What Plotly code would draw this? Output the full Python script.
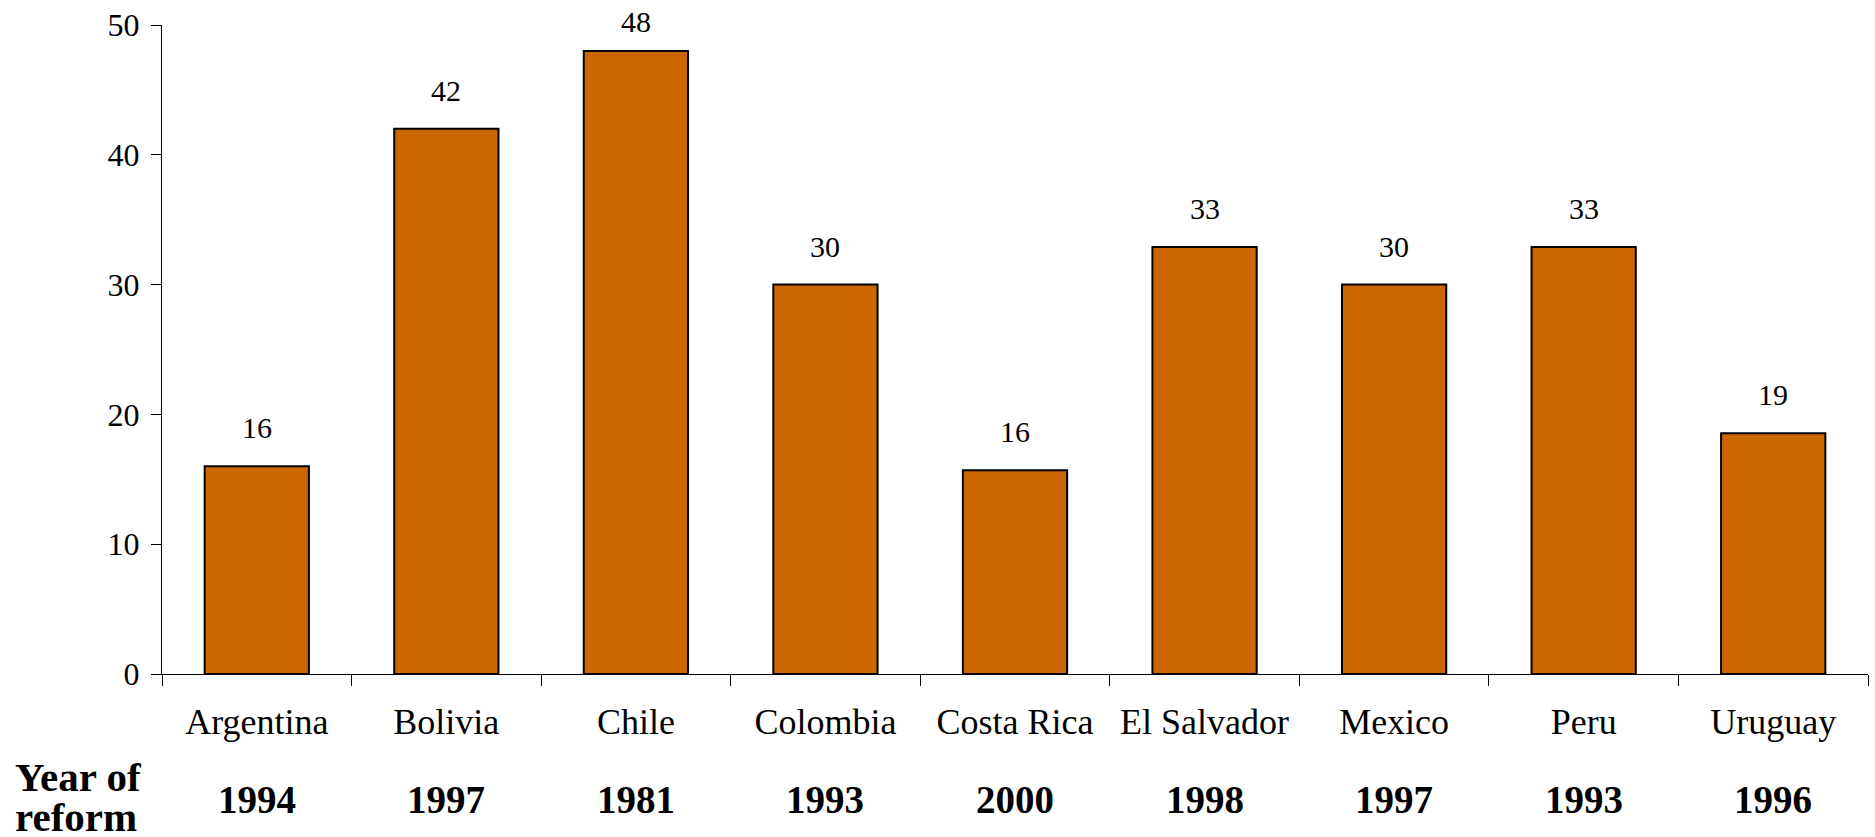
import plotly.graph_objects as go

# Share of the workforce (%) by country, with the year each reform took place
countries = ["Argentina", "Bolivia", "Chile", "Colombia", "Costa Rica",
             "El Salvador", "Mexico", "Peru", "Uruguay"]
values = [16.0, 42.0, 48.0, 30.0, 15.7, 32.9, 30.0, 32.9, 18.54]
reform_years = ["1994", "1997", "1981", "1993", "2000",
                "1998", "1997", "1993", "1996"]
y_ticks = [0, 10, 20, 30, 40, 50]

W, H = 1875, 837
ML, MR, MT, MB = 162, 7, 25, 163
Y_MAX = 50
FONT = "Liberation Serif"

plot_w = W - ML - MR
plot_h = H - MT - MB

fig = go.Figure(
    go.Bar(
        x=countries,
        y=values,
        width=0.55,
        marker=dict(color="#CC6600", line=dict(color="#000000", width=2)),
        hoverinfo="x+y",
    )
)

# Value labels above each bar, rounded to whole numbers; kept inside the
# top edge of the figure for the tallest bars
for c, v in zip(countries, values):
    bar_top_px = MT + plot_h * (1 - v / Y_MAX)
    shift = min(20, bar_top_px - 40)
    fig.add_annotation(
        x=c, y=v, text=f"{v:.0f}", showarrow=False,
        xanchor="center", yanchor="bottom", yshift=shift,
        font=dict(family=FONT, size=30, color="#000000"),
    )

# Row of reform years under the category labels
year_y = 1 - (800 - MT) / plot_h
for c, yr in zip(countries, reform_years):
    fig.add_annotation(
        x=c, y=year_y, yref="paper", text=f"<b>{yr}</b>", showarrow=False,
        xanchor="center", yanchor="middle",
        font=dict(family=FONT, size=39, color="#000000"),
    )

# Row header on the left
for line, cy in (("Year of", 777), ("reform", 817)):
    fig.add_annotation(
        x=(13 - ML) / plot_w, xref="paper",
        y=1 - (cy - MT) / plot_h, yref="paper",
        text=f"<b>{line}</b>", showarrow=False,
        xanchor="left", yanchor="middle", align="left",
        font=dict(family=FONT, size=41, color="#000000"),
    )

fig.update_layout(
    width=W, height=H,
    margin=dict(l=ML, r=MR, t=MT, b=MB, pad=0),
    paper_bgcolor="#FFFFFF", plot_bgcolor="#FFFFFF",
    showlegend=False,
    font=dict(family=FONT, color="#000000"),
    bargap=0.45,
)
fig.update_xaxes(
    type="category",
    tickson="boundaries",
    ticks="outside", ticklen=11, tickwidth=1, tickcolor="#000000",
    showline=True, linecolor="#000000", linewidth=1,
    showgrid=False, zeroline=False,
    tickfont=dict(family=FONT, size=36, color="#000000"),
    ticklabelstandoff=16,
)
fig.update_yaxes(
    range=[0, Y_MAX],
    tickvals=y_ticks,
    ticks="outside", ticklen=10, tickwidth=1, tickcolor="#000000",
    showline=True, linecolor="#000000", linewidth=1,
    showgrid=False, zeroline=False,
    tickfont=dict(family=FONT, size=32, color="#000000"),
    ticklabelstandoff=5,
)

fig.write_html("out.html")
